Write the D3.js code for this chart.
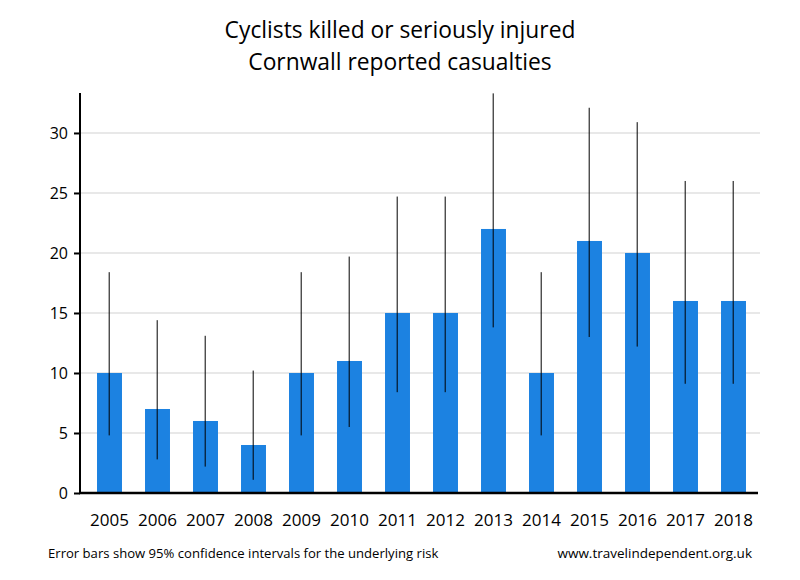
<!DOCTYPE html>
<html><head><meta charset="utf-8">
<script src="https://cdn.jsdelivr.net/npm/d3@7"></script>
<style>body{margin:0;background:#fff}svg{display:block}text{font-family:"Open Sans",sans-serif;fill:#000}</style>
</head><body><svg id="c" width="800" height="580"></svg>
<script>
const years = ["2005","2006","2007","2008","2009","2010","2011","2012","2013","2014","2015","2016","2017","2018"];
const casualties = [10,7,6,4,10,11,15,15,22,10,21,20,16,16];
const ciLow = [4.8,2.8,2.2,1.1,4.8,5.5,8.4,8.4,13.8,4.8,13.0,12.2,9.1,9.1];
const ciHigh = [18.4,14.4,13.1,10.2,18.4,19.7,24.7,24.7,33.3,18.4,32.1,30.9,26.0,26.0];
const yTicks = [0,5,10,15,20,25,30];
const titleLines = ["Cyclists killed or seriously injured","Cornwall reported casualties"];
const footLeft = "Error bars show 95% confidence intervals for the underlying risk";
const footRight = "www.travelindependent.org.uk";

const svg = d3.select("#c");
const x = d3.scaleBand().domain(years).range([85.5,757.5]).paddingInner(0.48).paddingOuter(0.24);
const y = d3.scaleLinear().domain([0,33.33]).range([493,93]);

// gridlines
svg.append("g").selectAll("line").data(yTicks.filter(d=>d>0)).join("line")
  .attr("x1",80).attr("x2",760).attr("y1",d=>y(d)).attr("y2",d=>y(d))
  .attr("stroke","#e8e8e8").attr("stroke-width",2);

// bars
svg.append("g").selectAll("rect").data(years).join("rect")
  .attr("x",d=>x(d)).attr("width",x.bandwidth())
  .attr("y",(d,i)=>y(casualties[i])).attr("height",(d,i)=>y(0)-y(casualties[i]))
  .attr("fill","#1c82e1");

// error bars
svg.append("g").selectAll("line").data(years).join("line")
  .attr("x1",d=>x(d)+x.bandwidth()/2-0.3).attr("x2",d=>x(d)+x.bandwidth()/2-0.3)
  .attr("y1",(d,i)=>y(ciLow[i])).attr("y2",(d,i)=>y(ciHigh[i]))
  .attr("stroke","#000").attr("stroke-width",1);

// y axis
const ya = svg.append("g").attr("transform","translate(80,0)")
  .call(d3.axisLeft(y).tickValues(yTicks).tickSize(6).tickPadding(6).tickFormat(d3.format("d")));
ya.select(".domain").remove();
ya.selectAll(".tick line").attr("stroke","#000").attr("stroke-width",2);
ya.selectAll(".tick text").attr("font-size",16).attr("font-family","Open Sans").attr("fill","#000");
svg.append("line").attr("x1",80).attr("x2",80).attr("y1",93).attr("y2",494).attr("stroke","#000").attr("stroke-width",2);

// x axis
const xa = svg.append("g").attr("transform","translate(0,493)")
  .call(d3.axisBottom(x).tickSize(0).tickPadding(21));
xa.select(".domain").remove();
xa.selectAll(".tick text").attr("font-size",17).attr("font-family","Open Sans").attr("fill","#000");
svg.append("line").attr("x1",79).attr("x2",758).attr("y1",493).attr("y2",493).attr("stroke","#000").attr("stroke-width",2.5);

// titles
svg.append("g").selectAll("text").data(titleLines).join("text")
  .attr("x",400).attr("y",(d,i)=>38+i*32).attr("text-anchor","middle")
  .attr("font-size",22.8).text(d=>d);

svg.append("text").attr("x",48).attr("y",558).attr("font-size",13.1).text(footLeft);
svg.append("text").attr("x",752).attr("y",558).attr("font-size",13.5).attr("text-anchor","end").text(footRight);
</script></body></html>
